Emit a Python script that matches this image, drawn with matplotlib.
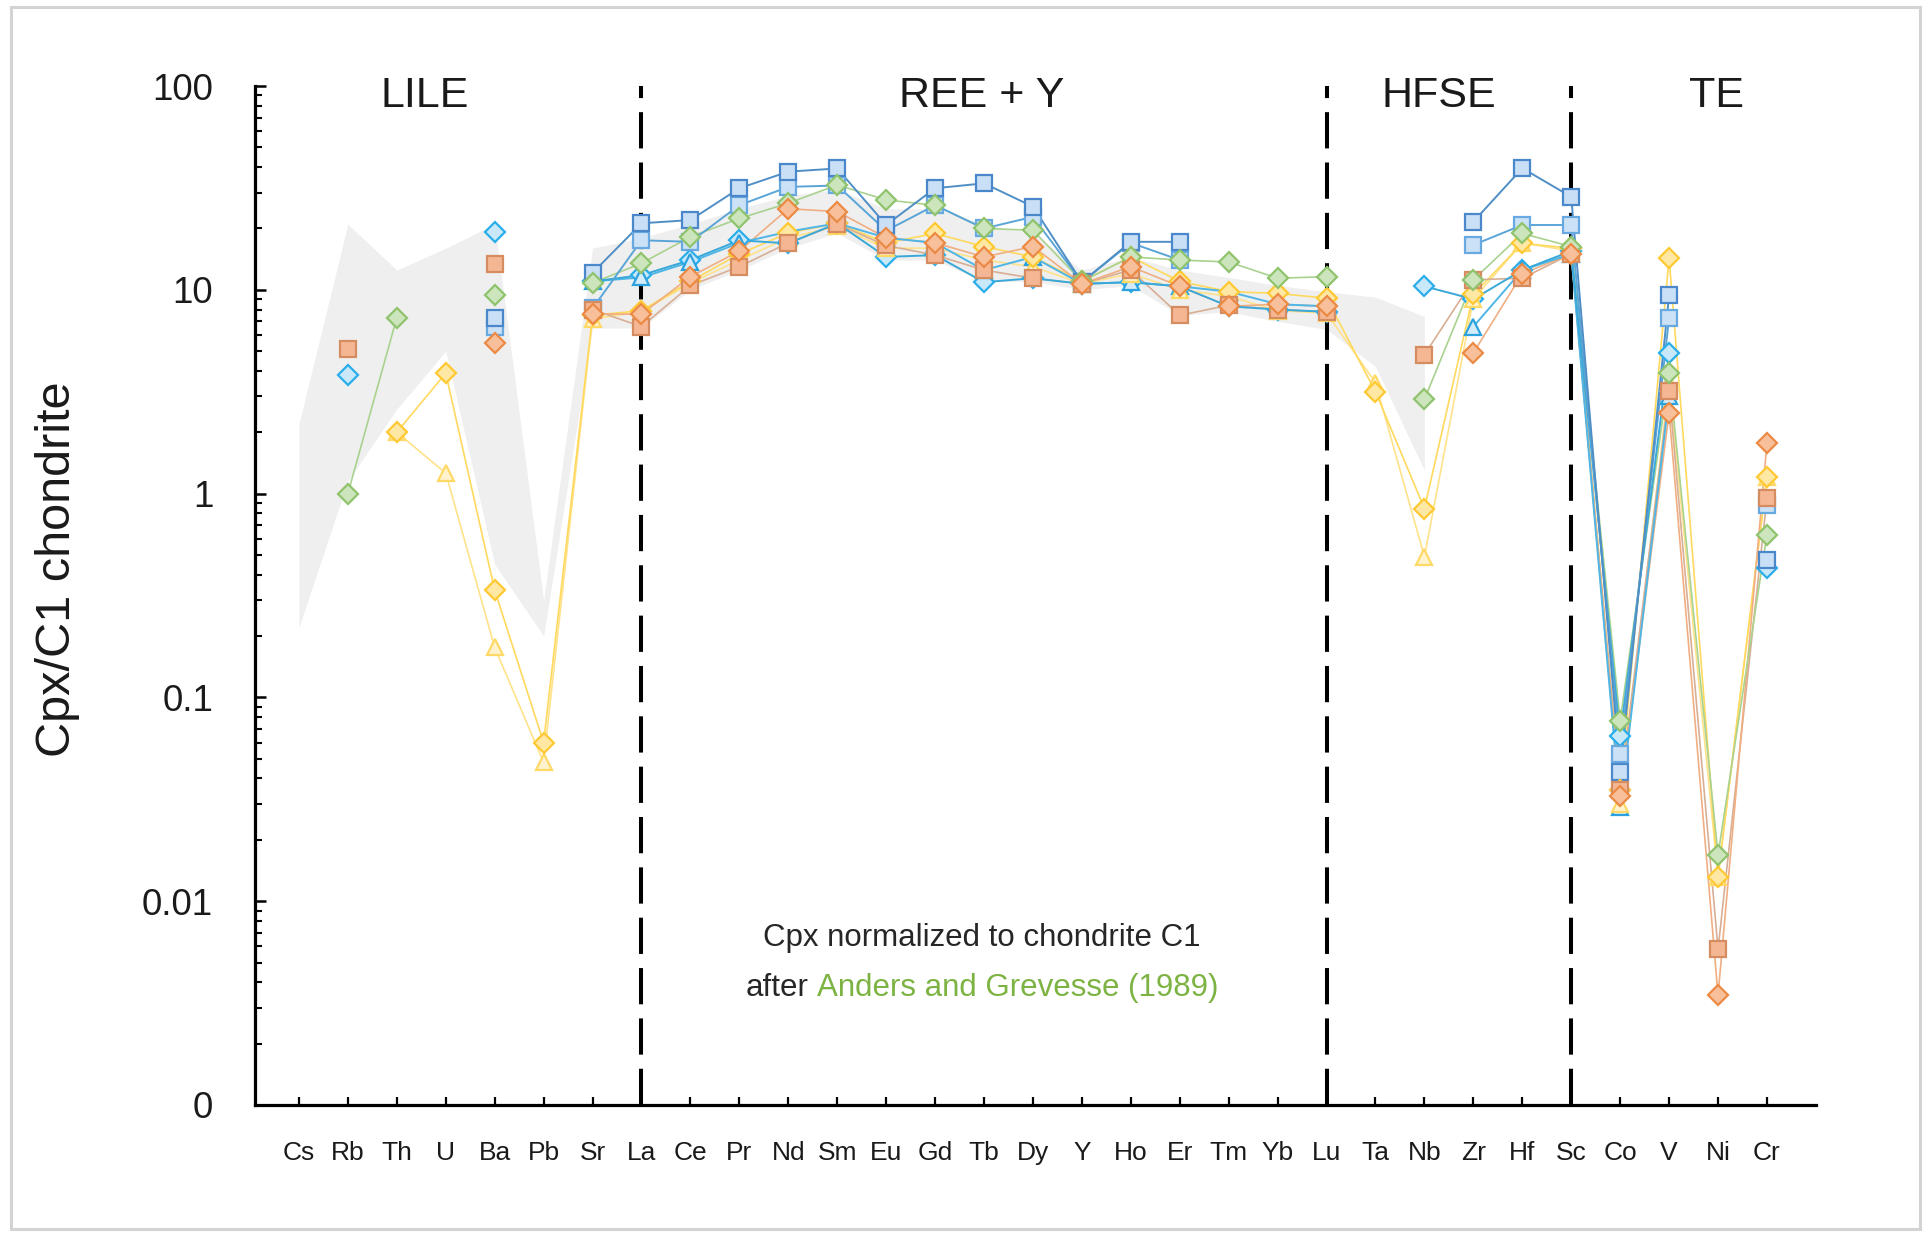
import numpy as np
import matplotlib
matplotlib.use("Agg")
import matplotlib.pyplot as plt
from matplotlib.patches import Rectangle
from matplotlib.ticker import FixedLocator, LogLocator, NullFormatter
from matplotlib.offsetbox import TextArea, HPacker, AnnotationBbox

nan = np.nan

elements = ["Cs", "Rb", "Th", "U", "Ba", "Pb", "Sr", "La", "Ce", "Pr", "Nd", "Sm",
            "Eu", "Gd", "Tb", "Dy", "Y", "Ho", "Er", "Tm", "Yb", "Lu", "Ta", "Nb",
            "Zr", "Hf", "Sc", "Co", "V", "Ni", "Cr"]

# chondrite-normalised clinopyroxene compositions (one list per sample)
cpx_orange_sq = [nan, 5.1, nan, nan, 13.4, nan, 8.0, 6.6, 10.5, 13.0, 17.0, 21.0, 16.5, 14.8, 12.5, 11.4,
                 10.7, 12.5, 7.5, 8.4, 8.0, 7.8, nan, 4.8, 11.2, 11.4, 15.0, 0.035, 3.2, 0.0058, 0.95]
cpx_orange_di = [nan, nan, nan, nan, 5.5, nan, 7.6, 7.6, 11.6, 15.5, 25.0, 24.2, 18.0, 17.0, 14.5, 16.3,
                 10.7, 13.0, 10.4, 8.3, 8.5, 8.3, nan, nan, 4.9, 12.0, 15.0, 0.033, 2.5, 0.00345, 1.77]
cpx_blue_sq1 = [nan, nan, nan, nan, 7.3, nan, 12.1, 21.2, 22.0, 31.5, 38.0, 39.4, 20.8, 31.5, 33.3, 25.6,
                10.9, 17.2, 17.2, nan, nan, nan, nan, nan, 21.6, 39.5, 28.6, 0.043, 9.4, nan, 0.47]
cpx_blue_sq2 = [nan, nan, nan, nan, 6.6, nan, 8.1, 17.5, 17.2, 26.0, 32.0, 32.5, 19.5, 26.0, 20.0, 22.8,
                10.9, 17.0, 14.0, nan, nan, nan, nan, nan, 16.6, 20.8, 20.8, 0.053, 7.3, nan, 0.88]
cpx_blue_di = [nan, 3.8, nan, nan, 19.2, nan, 11.0, 11.8, 14.0, 17.5, 16.9, 21.2, 14.5, 14.8, 10.9, 11.4,
               10.7, 10.9, 10.4, 8.3, 8.0, 7.8, nan, 10.4, 9.0, 12.5, 15.5, 0.065, 4.9, nan, 0.43]
cpx_blue_tri = [nan, nan, nan, nan, nan, nan, 11.0, 11.5, 13.7, 17.0, 19.3, 21.2, 18.0, 17.0, 12.5, 14.5,
                10.7, 10.9, 10.4, 9.8, 8.5, 8.3, nan, nan, 6.6, 12.5, 15.0, 0.029, 3.0, nan, nan]
cpx_green_di = [nan, 1.0, 7.3, nan, 9.4, nan, 10.8, 13.5, 18.2, 22.4, 26.6, 32.7, 27.6, 26.0, 20.0, 19.6,
                11.0, 14.5, 14.0, 13.7, 11.4, 11.6, nan, 2.9, 11.2, 18.9, 16.3, 0.077, 3.9, 0.0169, 0.63]
cpx_yellow_tri = [nan, nan, 2.0, 1.26, 0.176, 0.048, 7.2, 7.8, 10.8, 14.0, 18.0, 20.5, 16.0, 16.0, 14.0, 13.0,
                  10.7, 12.0, 10.0, 9.3, 7.9, 7.7, 3.5, 0.49, 9.0, 17.0, 15.5, 0.030, 3.5, 0.0132, 1.21]
cpx_yellow_di = [nan, nan, 2.0, 3.9, 0.336, 0.060, 7.5, 7.9, 11.0, 15.0, 19.0, 21.2, 17.0, 18.9, 16.3, 14.5,
                 11.0, 14.5, 11.0, 9.8, 9.6, 9.1, 3.16, 0.845, 9.5, 16.9, 16.0, 0.035, 14.3, 0.0132, 1.21]

# literature range shown as the grey field
field_upper = [2.2, 21, 12.5, 16, 21, 0.3, 16, 18, 21, 25, 29, 31, 25, 25, 21, 19, 12.5, 14.5, 12.5, 11.5,
               10.5, 9.8, 9.2, 7.4]
field_lower = [0.22, 1.15, 2.6, 5.0, 0.45, 0.2, 6.5, 6.5, 10.0, 12.5, 16.0, 19.0, 14.0, 14.0, 11.0, 11.0,
               10.0, 10.5, 7.5, 7.8, 7.0, 6.4, 4.2, 1.3]

groups = ["LILE", "REE + Y", "HFSE", "TE"]
group_centres = [2.58, 13.96, 23.3, 28.96]
group_bounds = ["La", "Lu", "Sc"]

y_ticks = [1e-3, 1e-2, 1e-1, 1, 10, 100]
y_ticklabels = ["0", "0.01", "0.1", "1", "10", "100"]

# sample styles: marker, size, face, edge, line colour, line width
styles = {
    "yellow_tri": ("^", 12, "#FFF2CC", "#FFD966", "#FFE28A", 1.2),
    "yellow_di": ("D", 10.5, "#FFE8A3", "#FFC933", "#FFD95E", 1.2),
    "orange_sq": ("s", 12, "#F5B793", "#D58C60", "#D8AE94", 1.2),
    "orange_di": ("D", 10.5, "#F7C09A", "#EC8A45", "#F0AE82", 1.2),
    "green_di": ("D", 10.5, "#CDE5BD", "#8FC36D", "#A9D28E", 1.2),
    "blue_tri": ("^", 12, "#D3EBF9", "#2BA2DE", "#4FB6E6", 1.4),
    "blue_di": ("D", 10.5, "#C9E9FB", "#2AAEEA", "#3AA8D8", 1.4),
    "blue_sq2": ("s", 12, "#CBE1F5", "#68A9E2", "#5AA5D8", 1.4),
    "blue_sq1": ("s", 12, "#C9DFF5", "#4A88CB", "#4F8FC6", 1.4),
}
data = {
    "yellow_tri": cpx_yellow_tri, "yellow_di": cpx_yellow_di,
    "orange_sq": cpx_orange_sq, "orange_di": cpx_orange_di,
    "green_di": cpx_green_di, "blue_tri": cpx_blue_tri, "blue_di": cpx_blue_di,
    "blue_sq2": cpx_blue_sq2, "blue_sq1": cpx_blue_sq1,
}
line_order = ["yellow_tri", "yellow_di", "orange_sq", "orange_di", "green_di",
              "blue_tri", "blue_di", "blue_sq2", "blue_sq1"]
marker_order = ["blue_di", "blue_tri", "blue_sq2", "blue_sq1", "yellow_tri", "yellow_di",
                "orange_sq", "green_di", "orange_di"]

plt.rcParams["font.family"] = ["Liberation Sans", "DejaVu Sans"]

fig = plt.figure(figsize=(19.31, 12.36), dpi=100)
ax = fig.add_axes([0.132, 0.106, 0.8084, 0.8244])

x = np.arange(len(elements))
xf = np.arange(len(field_upper))

ax.fill_between(xf, field_lower, field_upper, color="#EFEFEF", lw=0, zorder=1)

for name in group_bounds:
    ax.axvline(elements.index(name), color="black", lw=2.9, ls=(0, (9, 3.5)), zorder=2)

for k, key in enumerate(line_order):
    mk, ms, fc, ec, lc, lw = styles[key]
    ax.plot(x, data[key], color=lc, lw=lw, zorder=3 + k * 0.05)
for k, key in enumerate(marker_order):
    mk, ms, fc, ec, lc, lw = styles[key]
    ax.plot(x, data[key], ls="none", marker=mk, ms=ms, mfc=fc, mec=ec, mew=1.6,
            zorder=4 + k * 0.05)

ax.set_yscale("log")
ax.set_ylim(1e-3, 100)
ax.set_xlim(-0.9, 31.0)

ax.yaxis.set_major_locator(FixedLocator(y_ticks))
ax.set_yticklabels(y_ticklabels)
ax.yaxis.set_minor_locator(LogLocator(base=10, subs=np.arange(2, 10)))
ax.yaxis.set_minor_formatter(NullFormatter())
ax.tick_params(axis="y", which="major", direction="in", length=8, width=1.8, pad=30,
               labelsize=26.5, labelcolor="#1a1a1a")
ax.tick_params(axis="y", which="minor", direction="in", length=5, width=1.5)

ax.set_xticks(x)
ax.set_xticklabels(elements, fontfamily=["Liberation Sans Narrow", "Liberation Sans"], fontsize=19)
ax.xaxis.set_minor_locator(FixedLocator(x[1::2]))
ax.tick_params(axis="x", which="major", direction="in", length=6, width=1.6, pad=26,
               labelcolor="#1a1a1a")
ax.tick_params(axis="x", which="minor", direction="in", length=11, width=1.6)

for side in ("top", "right"):
    ax.spines[side].set_visible(False)
for side in ("left", "bottom"):
    ax.spines[side].set_linewidth(2.3)
    ax.spines[side].set_color("black")

ax.set_ylabel("Cpx/C1 chondrite", fontsize=35, color="#1a1a1a")
ax.yaxis.set_label_coords(-0.112, 0.526)

for label, xc in zip(groups, group_centres):
    ax.text(xc, 0.99, label, transform=ax.get_xaxis_transform(), ha="center", va="center",
            fontsize=31, color="#1a1a1a", clip_on=False)

ax.text(13.96, 0.164, "Cpx normalized to chondrite C1", transform=ax.get_xaxis_transform(),
        ha="center", va="center", fontsize=22.5, color="#262626")
line2 = HPacker(children=[TextArea("after", textprops=dict(fontsize=22.5, color="#262626")),
                          TextArea("Anders and Grevesse (1989)",
                                   textprops=dict(fontsize=22.5, color="#7CB342"))],
                sep=6.3, pad=0, align="baseline")
ax.add_artist(AnnotationBbox(line2, (13.96, 0.115), xycoords=("data", "axes fraction"),
                             box_alignment=(0.5, 0.5), frameon=False, pad=0))

fig.patches.append(Rectangle((11 / 1931, 7 / 1236), 1909 / 1931, 1222 / 1236,
                             transform=fig.transFigure, fill=False, edgecolor="#D3D3D3", lw=2.2))

fig.savefig("out.png", dpi=100)
